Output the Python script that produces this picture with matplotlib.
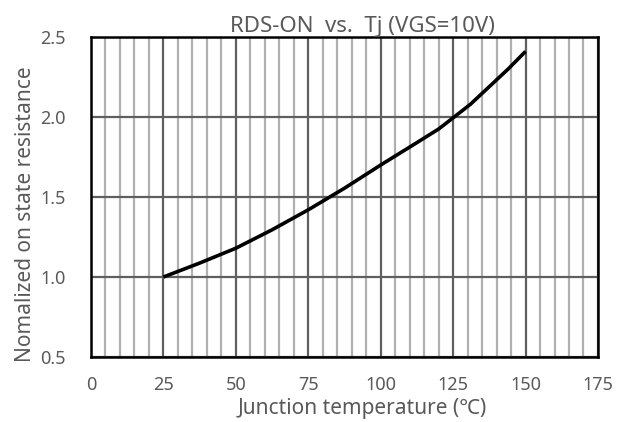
import matplotlib.pyplot as plt
from matplotlib.ticker import MultipleLocator

plt.rcParams['font.family'] = ['Noto Sans', 'Noto Sans CJK SC', 'DejaVu Sans']

temp = [25, 37.5, 50, 62.5, 75, 87.5, 100, 112.5, 120, 125, 131, 137.5, 144, 150]
rds_on = [1.0, 1.087, 1.18, 1.295, 1.42, 1.555, 1.70, 1.84, 1.925, 1.995, 2.08, 2.19, 2.30, 2.41]

text_color = "#595959"

fig = plt.figure(figsize=(6.24, 4.22), dpi=100)
ax = fig.add_axes([0.1458, 0.154, 0.8125, 0.7583])

ax.plot(temp, rds_on, color="black", lw=2.6, solid_capstyle="butt", zorder=3)

ax.set_xlim(0, 175)
ax.set_ylim(0.5, 2.5)
ax.xaxis.set_major_locator(MultipleLocator(25))
ax.xaxis.set_minor_locator(MultipleLocator(5))
ax.yaxis.set_major_locator(MultipleLocator(0.5))
ax.yaxis.set_major_formatter(plt.FormatStrFormatter("%.1f"))

ax.grid(which="minor", axis="x", color="#b0b0b0", lw=1.6)
ax.grid(which="major", axis="both", color="#5f5f5f", lw=1.6)
ax.set_axisbelow(True)

ax.tick_params(which="both", length=0, labelsize=13, labelcolor=text_color)
ax.tick_params(axis="x", pad=14)
ax.tick_params(axis="y", pad=18)

for s in ax.spines.values():
    s.set_color("black")
    s.set_linewidth(1.8)

ax.set_title("RDS-ON  vs.  Tj (VGS=10V)", fontsize=16, color=text_color, pad=2, x=0.535)
ax.set_xlabel("Junction temperature (℃)", fontsize=15, color=text_color)
ax.set_ylabel("Nomalized on state resistance", fontsize=15, color=text_color)
ax.xaxis.set_label_coords(0.534, -0.128)
ax.yaxis.set_label_coords(-0.108, 0.445)

fig.savefig("out.png", dpi=100)
